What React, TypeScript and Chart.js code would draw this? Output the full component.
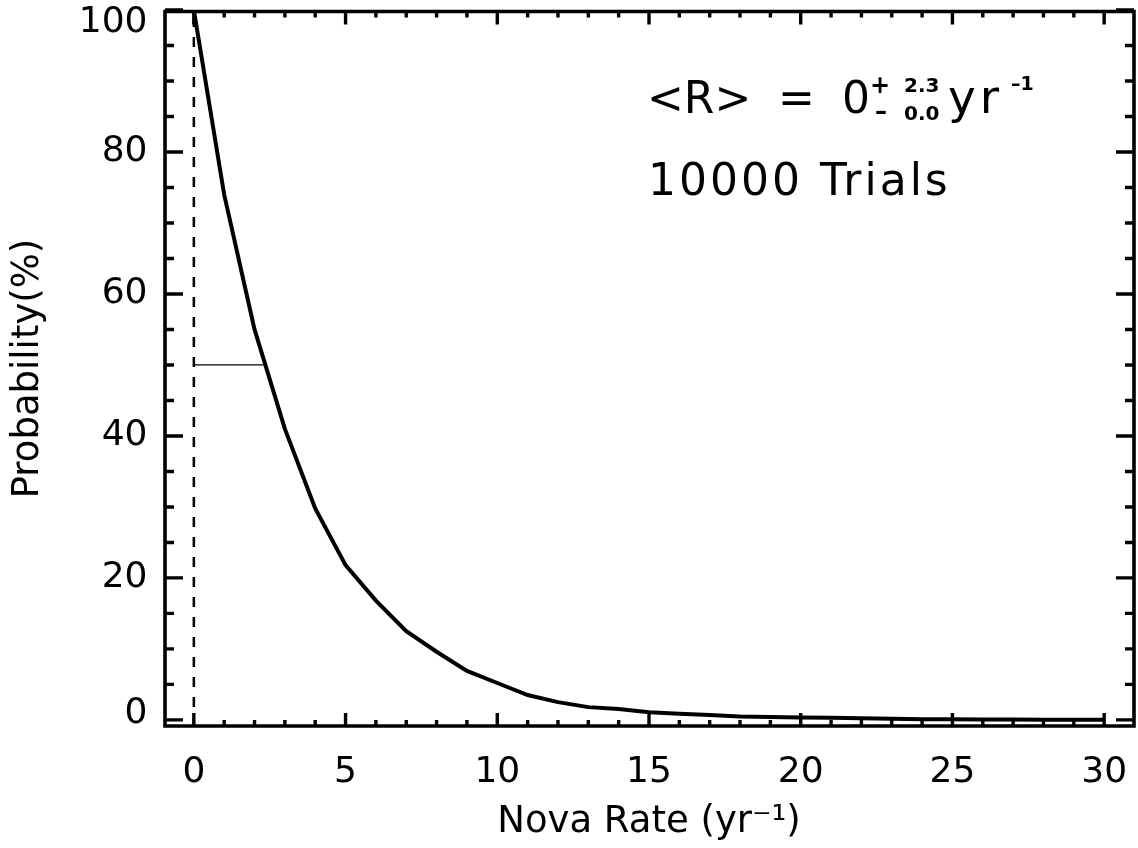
import React, { useEffect, useRef } from "react";
import { Chart, registerables } from "chart.js";

Chart.register(...registerables);

// ---- data ----
const rates = [0, 1, 2, 3, 4, 5, 6, 7, 8, 9, 10, 11, 12, 13, 14, 15, 16, 17, 18, 19, 20, 21, 22, 23, 24, 25, 26, 27, 28, 29, 30];
const probability = [100, 74, 55, 41, 29.8, 21.8, 16.8, 12.5, 9.6, 6.9, 5.2, 3.5, 2.5, 1.8, 1.55, 1.08, 0.85, 0.7, 0.47, 0.4, 0.35, 0.3, 0.25, 0.15, 0.1, 0.1, 0.05, 0.05, 0.03, 0.02, 0.01];

const xRange = [-1, 31];
const yRange = [-1, 100];
const xMajorTicks = [0, 5, 10, 15, 20, 25, 30];
const xMinorTicks = [0, 1, 2, 3, 4, 5, 6, 7, 8, 9, 10, 11, 12, 13, 14, 15, 16, 17, 18, 19, 20, 21, 22, 23, 24, 25, 26, 27, 28, 29, 30];
const yMajorTicks = [0, 20, 40, 60, 80, 100];
const yMinorTicks = [0, 5, 10, 15, 20, 25, 30, 35, 40, 45, 50, 55, 60, 65, 70, 75, 80, 85, 90, 95, 100];

const medianRate = 0;
const upperError = 2.3;
const lowerError = 0.0;
const halfLevel = 50;
const trials = 10000;

const FONT = "'DejaVu Sans', sans-serif";

const framePlugin = {
  id: "idlFrame",
  afterDatasetsDraw(chart: any) {
    const { ctx, chartArea: a, scales } = chart;
    const xs = scales.x;
    const ys = scales.y;
    const L = Math.round(a.left) + 1;
    const R = Math.round(a.right) - 1;
    const T = Math.round(a.top) + 1.5;
    const B = Math.round(a.bottom) - 1;
    ctx.save();
    ctx.strokeStyle = "#000";
    ctx.lineWidth = 3.4;
    ctx.lineCap = "butt";
    ctx.beginPath();
    xMinorTicks.forEach((v) => {
      const px = xs.getPixelForValue(v);
      const len = xMajorTicks.includes(v) ? 13 : 6;
      ctx.moveTo(px, B);
      ctx.lineTo(px, B - len);
      ctx.moveTo(px, T);
      ctx.lineTo(px, T + len);
    });
    yMinorTicks.forEach((v) => {
      const py = ys.getPixelForValue(v);
      const len = yMajorTicks.includes(v) ? 18 : 9;
      ctx.moveTo(L, py);
      ctx.lineTo(L + len, py);
      ctx.moveTo(R, py);
      ctx.lineTo(R - len, py);
    });
    ctx.stroke();
    ctx.lineWidth = 3.6;
    ctx.lineCap = "square";
    ctx.beginPath();
    ctx.moveTo(L, T);
    ctx.lineTo(R, T);
    ctx.lineTo(R, B);
    ctx.lineTo(L, B);
    ctx.closePath();
    ctx.stroke();
    ctx.restore();
  },
};

const annotationPlugin = {
  id: "rateAnnotation",
  afterDraw(chart: any) {
    const { ctx } = chart;
    ctx.save();
    ctx.fillStyle = "#000";
    ctx.textAlign = "left";
    ctx.textBaseline = "alphabetic";
    const big = `44px ${FONT}`;
    ctx.font = big;
    ctx.fillText("<R>", 647, 113);
    ctx.fillText("=", 778, 113);
    ctx.fillText(String(medianRate), 842, 113);
    ctx.font = `bold 24px ${FONT}`;
    ctx.fillText("+", 870, 93);
    ctx.fillText("–", 875, 119);
    ctx.font = `bold 20px ${FONT}`;
    ctx.fillText(upperError.toFixed(1), 904, 92);
    ctx.fillText(lowerError.toFixed(1), 904, 120);
    ctx.font = `bold 19px ${FONT}`;
    ctx.fillText("–1", 1011, 90);
    ctx.font = `47px ${FONT}`;
    (ctx as any).letterSpacing = "4px";
    ctx.fillText("yr", 948, 113);
    ctx.font = big;
    (ctx as any).letterSpacing = "3px";
    ctx.fillText(`${trials} Trials`, 648, 195);
    ctx.restore();
  },
};

export default function App() {
  const canvasRef = useRef<HTMLCanvasElement | null>(null);

  useEffect(() => {
    if (!canvasRef.current) return;
    const chart = new Chart(canvasRef.current, {
      type: "line",
      data: {
        datasets: [
          {
            data: rates.map((r, i) => ({ x: r, y: probability[i] })),
            borderColor: "#000",
            borderWidth: 4,
            pointRadius: 0,
            tension: 0,
            fill: false,
          },
          {
            data: [
              { x: medianRate, y: yRange[0] },
              { x: medianRate, y: yRange[1] },
            ],
            borderColor: "#000",
            borderWidth: 2.5,
            borderDash: [10, 10],
            pointRadius: 0,
            fill: false,
          },
          {
            data: [
              { x: medianRate, y: halfLevel },
              { x: medianRate + upperError, y: halfLevel },
            ],
            borderColor: "#000",
            borderWidth: 1.3,
            pointRadius: 0,
            fill: false,
          },
        ],
      },
      options: {
        responsive: false,
        animation: false,
        devicePixelRatio: 1,
        parsing: false as any,
        layout: { padding: { top: 10, right: 3.5, left: 0, bottom: 0 } },
        plugins: { legend: { display: false }, tooltip: { enabled: false } },
        scales: {
          x: {
            type: "linear",
            position: "bottom",
            min: xRange[0],
            max: xRange[1],
            grid: { display: false, drawTicks: false },
            border: { display: false },
            ticks: {
              color: "#000",
              font: { family: FONT, size: 36, lineHeight: 1.2 },
              padding: 24,
              maxRotation: 0,
              autoSkip: false,
              includeBounds: false,
              callback: (v: any) => String(v),
            },
            title: {
              display: true,
              text: "Nova Rate (yr⁻¹)",
              color: "#000",
              font: { family: FONT, size: 37, lineHeight: 1.2 },
              padding: { top: 0, bottom: 3 },
            },
            afterBuildTicks: (s: any) => {
              s.ticks = xMajorTicks.map((v) => ({ value: v }));
            },
            afterFit: (s: any) => {
              s.height = 121;
              s.paddingLeft = 0;
              s.paddingRight = 0;
              s.paddingTop = 0;
              s.paddingBottom = 0;
            },
          },
          y: {
            type: "linear",
            position: "left",
            min: yRange[0],
            max: yRange[1],
            grid: { display: false, drawTicks: false },
            border: { display: false },
            ticks: {
              color: "#000",
              font: (c: any) => {
                const v = c.tick ? c.tick.value : null;
                return {
                  family: FONT,
                  size: 36,
                  lineHeight: v === 100 ? 0.72 : v === 0 ? 0.33 : 1.2,
                };
              },
              padding: 16,
              autoSkip: false,
              includeBounds: false,
              callback: (v: any) => {
                if (v === 100) return ["", "100"];
                if (v === 0) return ["0", ""];
                return String(v);
              },
            },
            title: {
              display: true,
              text: "Probability(%)",
              color: "#000",
              font: { family: FONT, size: 37, lineHeight: 1.2 },
              padding: { top: 6, bottom: 0 },
            },
            afterBuildTicks: (s: any) => {
              s.ticks = yMajorTicks.map((v) => ({ value: v }));
            },
            afterFit: (s: any) => {
              s.width = 163.5;
              s.paddingLeft = 0;
              s.paddingRight = 0;
              s.paddingTop = 0;
              s.paddingBottom = 0;
            },
          },
        },
      },
      plugins: [framePlugin, annotationPlugin],
    });
    return () => chart.destroy();
  }, []);

  return (
    <div style={{ position: "fixed", left: 0, top: 0, width: 1138, height: 848, background: "#fff" }}>
      <canvas ref={canvasRef} width={1138} height={848} style={{ display: "block", width: 1138, height: 848 }} />
    </div>
  );
}
